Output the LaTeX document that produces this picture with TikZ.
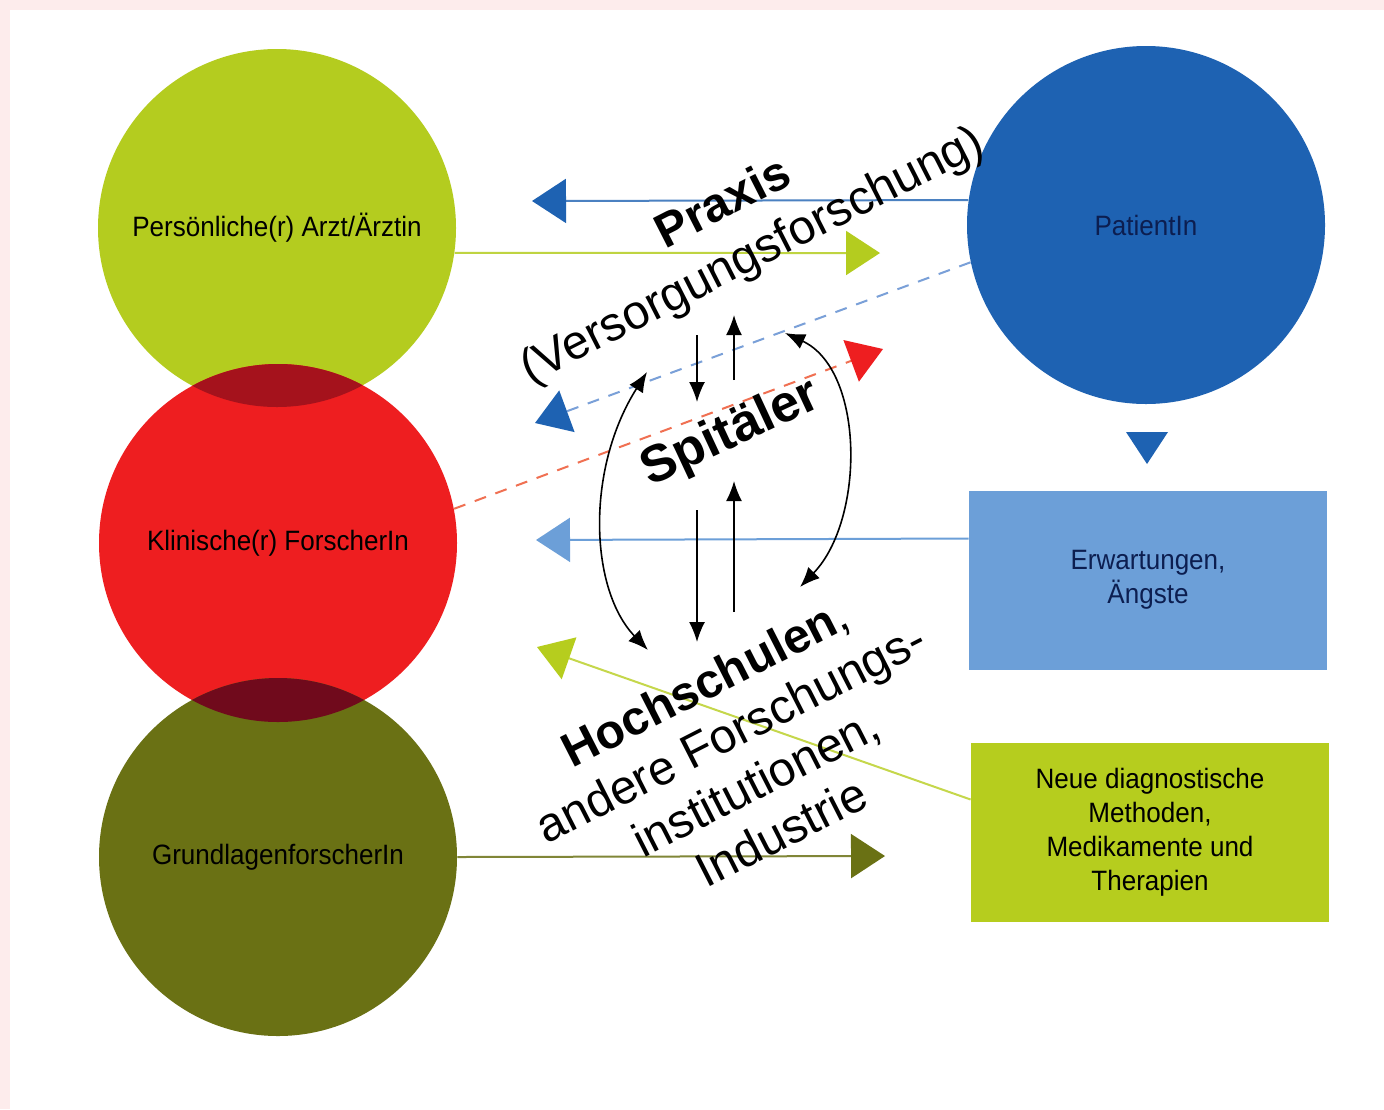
\documentclass[tikz,border=0pt]{standalone}
\usepackage{fontspec}
\setmainfont{Liberation Sans}
\newfontfamily\labelfont[FakeStretch=0.93]{Liberation Sans}
\usetikzlibrary{arrows.meta}
\tikzset{>={Latex[width=8pt,length=10pt]}}

\definecolor{arztgreen}{RGB}{180,204,31}
\definecolor{klinred}{RGB}{238,30,32}
\definecolor{grundolive}{RGB}{106,113,20}
\definecolor{patblue}{RGB}{30,98,178}
\definecolor{erwblue}{RGB}{108,159,216}
\definecolor{neuegreen}{RGB}{182,205,30}
\definecolor{lensred}{RGB}{165,18,28}
\definecolor{lensdark}{RGB}{112,10,28}
\definecolor{dashblue}{RGB}{122,160,216}
\definecolor{dashred}{RGB}{240,112,82}
\definecolor{navytext}{RGB}{12,30,80}
\definecolor{bgpink}{RGB}{253,236,236}

\tikzset{
  person/.style={circle, inner sep=0pt, minimum size=179pt,
    font=\labelfont\fontsize{14}{17}\selectfont},
  infobox/.style={rectangle, inner sep=0pt, minimum width=179pt, minimum height=89.5pt,
    align=center, font=\labelfont\fontsize{14}{17}\selectfont},
  flow/.style 2 args={line width=1pt, draw=#1, -{Triangle[length=17pt,width=22pt,color=#2]}},
  bigtext/.style={font=\fontsize{24}{28}\selectfont, align=center},
  link/.style={line width=0.8pt, black},
}

\begin{document}
\begin{tikzpicture}[x=0.5pt, y=-0.5pt]

%% paper
\fill[bgpink] (0,0) rectangle (1384,1109);
\fill[white] (10,10) rectangle (1384,1109);
\useasboundingbox (0,0) rectangle (1384,1109);

%% persons
\node[person, fill=arztgreen] (arzt) at (277,228) {Persönliche(r) Arzt/Ärztin};
\node[person, fill=klinred] (klin) at (278,543) {Klinische(r) ForscherIn};
\begin{scope}
\clip (arzt.center) circle[radius=89.5pt];
\fill[lensred] (klin.center) circle[radius=89.5pt];
\end{scope}
\node[person, fill=grundolive] (grund) at (278,857) {GrundlagenforscherIn};
\begin{scope}
\clip (klin.center) circle[radius=89.5pt];
\fill[lensdark] (grund.center) circle[radius=89.5pt];
\end{scope}
\node[person, fill=patblue, text=navytext] (patient) at (1146,225) {PatientIn};

%% boxes
\node[infobox, fill=erwblue, text=navytext] (erw) at (1148,580) {Erwartungen,\\Ängste};
\node[infobox, fill=neuegreen] (neue) at (1150,832)
{Neue diagnostische\\Methoden,\\Medikamente und\\Therapien};
\fill[patblue] (1126,432) -- (1168,432) -- (1147,464) -- cycle;

%% tips of the flows
\coordinate (tipPat) at (532,201);
\coordinate (tipArzt) at (880,253);
\coordinate (tipDash) at (535,423);
\coordinate (tipKlin) at (883,349);
\coordinate (tipErw) at (536,540);
\coordinate (tipNeue) at (537,647);
\coordinate (tipGrund) at (885,856);

\draw[flow={patblue!80!white}{patblue}] (patient.172) -- (tipPat);
\draw[flow={arztgreen!85!white}{arztgreen}] (arzt.-8) -- (tipArzt);
\draw[flow={dashblue}{patblue}, dash pattern=on 6pt off 5pt] (patient.192) -- (tipDash);
\draw[flow={dashred}{klinred}, dash pattern=on 6pt off 5pt] (klin.11) -- (tipKlin);
\draw[flow={erwblue}{erwblue}] ([yshift=20.75pt]erw.west) -- (tipErw);
\draw[flow={neuegreen!80!white}{neuegreen}] ([yshift=16.25pt]neue.west) -- (tipNeue);
\draw[flow={grundolive!85!white}{grundolive}] (grund.east) -- (tipGrund);

%% places of research
\node[bigtext, font=\bfseries\fontsize{24}{28}\selectfont, rotate=27] (praxis) at (722,201) {Praxis};
\node[bigtext, rotate=27] (versorg) at (753,257) {(Versorgungsforschung)};
\node[bigtext, font=\bfseries\fontsize{26}{30}\selectfont, rotate=25] (spital) at (731,434) {Spitäler};
\node[bigtext, rotate=27] (hoch) at (743,757)
{\textbf{Hochschulen},\\andere Forschungs-\\institutionen,\\Industrie};

%% exchange between them
\coordinate (downA) at (697,335);
\coordinate (downAe) at (697,402);
\coordinate (upA) at (734,380);
\coordinate (upAe) at (734,315);
\coordinate (downB) at (697,510);
\coordinate (downBe) at (697,642);
\coordinate (upB) at (734,612);
\coordinate (upBe) at (734,481);
\draw[link, ->] (downA) -- (downAe);
\draw[link, ->] (upA) -- (upAe);
\draw[link, ->] (downB) -- (downBe);
\draw[link, ->] (upB) -- (upBe);

\coordinate (leftTop) at (647,372);
\coordinate (leftBot) at (648,650);
\coordinate (rightTop) at (785,333);
\coordinate (rightBot) at (800,587);
\draw[link, <->] (leftTop) .. controls (585,470) and (590,590) .. (leftBot);
\draw[link, <->] (rightTop) .. controls (865,370) and (865,520) .. (rightBot);

\end{tikzpicture}
\end{document}
